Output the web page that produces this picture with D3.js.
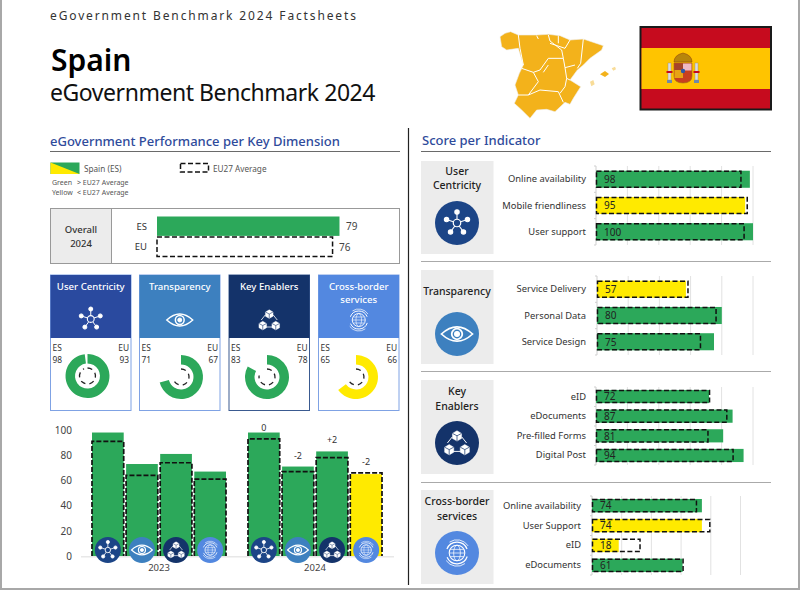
<!DOCTYPE html>
<html><head><meta charset="utf-8">
<script src="https://cdn.jsdelivr.net/npm/d3@7/dist/d3.min.js"></script>
<style>html,body{margin:0;padding:0;background:#fff}svg{display:block}text{font-family:"Noto Sans",sans-serif;fill:#333}</style>
</head><body><svg id="c" width="800" height="590"></svg>
<script>
// ---------- data ----------
const dimensions = ["User Centricity","Transparency","Key Enablers","Cross-border services"];
const dimKeys = ["network","eye","blocks","globe"];
const headerColors = ["#2a4a9f","#3d80bf","#14336a","#5388e0"];
const circleColors = ["#1c4587","#3d80bf","#14336a","#5388e0"];
const overallLabels = ["ES","EU"];
const overallValues = [79,76];
const esScores = [98,71,83,65];
const euScores = [93,67,78,66];
const years = ["2023","2024"];
const es2023 = [98,73,81,67];
const eu2023 = [91,64,74,61];
const es2024 = [98,71,83,65];
const eu2024 = [93,67,78,66];
const deltas2024 = ["0","-2","+2","-2"];
const yTicks = [0,20,40,60,80,100];
const sec1Labels = ["Online availability","Mobile friendliness","User support"];
const sec1ES = [98,95,100], sec1EU = [92,96,94];
const sec2Labels = ["Service Delivery","Personal Data","Service Design"];
const sec2ES = [57,80,75], sec2EU = [58,76,66];
const sec3Labels = ["eID","eDocuments","Pre-filled Forms","Digital Post"];
const sec3ES = [72,87,81,94], sec3EU = [72,83,71,87];
const sec4Labels = ["Online availability","User Support","eID","eDocuments"];
const sec4ES = [74,74,18,61], sec4EU = [70,79,32,61];
const GREEN="#2ca85a", YELLOW="#ffea00";
const F = '"Noto Sans",sans-serif';
// decorative map outline, in picture units of a small local grid
const mapOutline=[[30,65],[45,55],[62,50],[85,60],[140,60],[175,58],[210,62],[240,75],[280,72],[340,92],[335,105],[300,130],[280,150],[262,165],[240,195],[272,215],[250,250],[240,268],[225,262],[195,290],[170,283],[140,285],[120,310],[95,285],[73,265],[85,240],[75,210],[88,175],[100,150],[85,100],[50,105],[35,95]];
const mapBorders=[
 [[85,60],[90,100],[100,150]],
 [[140,62],[145,72]],[[175,60],[180,78],[215,105],[220,130],[175,130],[150,165],[130,172],[95,160]],
 [[180,85],[225,100],[240,75]],[[205,62],[205,85]],
 [[280,72],[272,145],[262,160]],
 [[220,130],[225,158],[255,150]],
 [[225,158],[230,190],[240,195]],[[230,190],[225,215],[210,235]],
 [[130,172],[145,200],[115,240],[85,240]],
 [[115,240],[150,225],[205,230],[220,262]],
 [[175,150],[160,172]]];
const mapIslands=[[[330,178],[345,168],[357,177],[345,186]],[[300,200],[310,195],[314,208],[304,214]],[[365,160],[375,155],[378,163],[370,167]]];

const svg=d3.select("#c");
function txt(g,x,y,s,o={}){const t=g.append("text").attr("x",x).attr("y",y).text(s)
 .attr("font-size",o.size||10).attr("text-anchor",o.anchor||"start").style("fill",o.fill||"#333").attr("font-weight",o.weight||400);
 if(o.ls)t.attr("letter-spacing",o.ls);return t;}

// frame
svg.append("path").attr("d","M1,0V589H799V0").attr("fill","none").attr("stroke","#a8a8a8").attr("stroke-width",2);

// header
txt(svg,50,20,"eGovernment Benchmark 2024 Factsheets",{size:12,ls:1.87,fill:"#333"});
txt(svg,51,71,"Spain",{size:30,weight:600,fill:"#000"});
txt(svg,50,101,"eGovernment Benchmark 2024",{size:23,fill:"#111",ls:-0.45});

// map
const mx=d3.scaleLinear().domain([0,300]).range([490,590]);
const my=d3.scaleLinear().domain([0,110]).range([15,51.67]);
const mapLine=d3.line().x(d=>mx(d[0])).y(d=>my(d[1]));
const mapG=svg.append("g");
mapG.append("path").attr("d",mapLine(mapOutline)+"Z").attr("fill","#f3b21b").attr("stroke","#eee").attr("stroke-width",.6);
mapBorders.forEach(b=>mapG.append("path").attr("d",mapLine(b)).attr("fill","none").attr("stroke","#fff").attr("stroke-width",1));
mapIslands.forEach((b,i)=>mapG.append("path").attr("d",mapLine(b)+"Z").attr("fill",i==0?"#f3b21b":"#f8dc98"));

// flag
const flag=svg.append("g");
flag.append("rect").attr("x",640.5).attr("y",27).attr("width",130.5).attr("height",82.5).attr("fill","#c60b1e").attr("stroke","#1a1a1a").attr("stroke-width",2);
flag.append("rect").attr("x",641.5).attr("y",48).attr("width",128.5).attr("height",41).attr("fill","#ffc400");
const cr=flag.append("g").attr("transform","translate(683,70)");
cr.append("path").attr("d","M-9,-7H9V6Q9,13 0,13Q-9,13 -9,6Z").attr("fill","#c8401f").attr("stroke","#9a6a10").attr("stroke-width",.6);
cr.append("rect").attr("x",0).attr("y",-6.5).attr("width",8.5).attr("height",7).attr("fill","#eeb9c4");
cr.append("rect").attr("x",-8.5).attr("y",0).attr("width",8.5).attr("height",8).attr("fill","#e8a315");
cr.append("rect").attr("x",-8.5).attr("y",-6.5).attr("width",8.5).attr("height",6.5).attr("fill","#a5452a");
cr.append("circle").attr("cx",0).attr("cy",1).attr("r",2.2).attr("fill","#2e5aa8");
cr.append("path").attr("d","M-9,-8Q-9,-15 0,-17Q9,-15 9,-8Z").attr("fill","#b8860b").attr("stroke","#8a3b10").attr("stroke-width",.5);
[-13.5,13.5].forEach(x=>{cr.append("rect").attr("x",x-1.5).attr("y",-7).attr("width",3).attr("height",17).attr("fill","#ddd").attr("stroke","#888").attr("stroke-width",.4);
 cr.append("rect").attr("x",x-2.5).attr("y",10).attr("width",5).attr("height",3).attr("fill","#6f8aa8");
 cr.append("rect").attr("x",x-3).attr("y",1).attr("width",6).attr("height",2).attr("fill","#c60b1e");});

// section headers
const HD="#2f4b9b";
txt(svg,50,146,"eGovernment Performance per Key Dimension",{size:13,weight:500,fill:HD});
txt(svg,422,145,"Score per Indicator",{size:13,weight:500,fill:HD});
[[50,400],[421,771]].forEach(([a,b])=>svg.append("line").attr("x1",a).attr("x2",b).attr("y1",151.5).attr("y2",151.5).attr("stroke","#6a6a6a").attr("stroke-width",1));
svg.append("line").attr("x1",408.5).attr("x2",408.5).attr("y1",128).attr("y2",585).attr("stroke","#222").attr("stroke-width",1.2);

// legend
svg.append("rect").attr("x",50.5).attr("y",162.5).attr("width",29).attr("height",11.5).attr("fill",GREEN);
svg.append("path").attr("d","M50.5,162.5L79.5,174H50.5Z").attr("fill",YELLOW);
txt(svg,84,172,"Spain (ES)",{size:8.2,fill:"#555"});
svg.append("rect").attr("x",180.5).attr("y",163.5).attr("width",28).attr("height",8.5).attr("fill","none").attr("stroke","#111").attr("stroke-width",1.5).attr("stroke-dasharray","5 2.5");
txt(svg,213,172,"EU27 Average",{size:8.2,fill:"#555"});
txt(svg,52,185,"Green",{size:7,fill:"#555"});
txt(svg,77,185,"> EU27 Average",{size:7,fill:"#555"});
txt(svg,52,195,"Yellow",{size:7,fill:"#555"});
txt(svg,77,195,"< EU27 Average",{size:7,fill:"#555"});

// overall box
const ov=svg.append("g");
ov.append("rect").attr("x",50.5).attr("y",208.5).attr("width",349).attr("height",55).attr("fill","#fff").attr("stroke","#999");
ov.append("rect").attr("x",51).attr("y",209).attr("width",60).attr("height",54).attr("fill","#ececec");
ov.append("line").attr("x1",111.5).attr("x2",111.5).attr("y1",208).attr("y2",264).attr("stroke","#999");
txt(ov,81,233,"Overall",{size:9.5,anchor:"middle",weight:500});
txt(ov,81,247,"2024",{size:9.5,anchor:"middle",weight:500});
const ovX=d3.scaleLinear().domain([0,100]).range([157,388]);
const ovY=d3.scaleBand().domain(overallLabels).range([216.5,256.5]).paddingInner(.06);
overallLabels.forEach((l,i)=>{
 const y=ovY(l),h=ovY.bandwidth(),v=overallValues[i];
 txt(ov,147,y+h/2+3.5,l,{size:9.5,anchor:"end"});
 const r=ov.append("rect").attr("x",ovX(0)).attr("y",y).attr("width",ovX(v)-ovX(0)).attr("height",h);
 if(i==0)r.attr("fill",GREEN); else r.attr("fill","#fff").attr("stroke","#111").attr("stroke-width",1.5).attr("stroke-dasharray","5 2.5");
 txt(ov,ovX(v)+6.5,y+h/2+4,v,{size:10,fill:"#444"});
});

// icons
function icon(g,key,cx,cy,s,color){
 const i=g.append("g").attr("transform",`translate(${cx},${cy}) scale(${s})`).attr("stroke","#fff").attr("fill","#fff");
 if(key==="network"){
  d3.range(5).forEach(k=>{const a=-Math.PI/2+k*2*Math.PI/5,x=Math.cos(a)*10,y=Math.sin(a)*10;
   i.append("line").attr("x1",0).attr("y1",0).attr("x2",x).attr("y2",y).attr("stroke-width",1);
   i.append("circle").attr("cx",x).attr("cy",y).attr("r",2);});
  i.append("circle").attr("r",3.4).attr("stroke-width",1.1).attr("fill",color);
 } else if(key==="eye"){
  i.append("path").attr("d","M-13,0Q0,-12 13,0Q0,12 -13,0Z").attr("fill","none").attr("stroke-width",1.4);
  i.append("circle").attr("r",4.4).attr("fill","none").attr("stroke-width",1.5);
  i.append("circle").attr("r",2);
 } else if(key==="blocks"){
  [[0,-6],[-6.5,5.5],[6.5,5.5]].forEach(([x,y])=>{
   i.append("path").attr("d",`M${x-3.8},${y-2}L${x},${y-4.2}L${x+3.8},${y-2}V${y+2.2}L${x},${y+4.4}L${x-3.8},${y+2.2}Z`).attr("stroke-width",.4);
   i.append("path").attr("d",`M${x-3.8},${y-2}L${x},${y}L${x+3.8},${y-2}M${x},${y}V${y+4.4}`).attr("fill","none").attr("stroke",color).attr("stroke-width",.6);});
  i.append("path").attr("d","M-4,-5L-8,0M4,-5L8,0M-3,7H3").attr("fill","none").attr("stroke-width",.8);
 } else {
  i.append("circle").attr("r",6.5).attr("fill","none").attr("stroke-width",.9);
  i.append("ellipse").attr("rx",2.8).attr("ry",6.5).attr("fill","none").attr("stroke-width",.6);
  i.append("path").attr("d","M-6.5,0H6.5M-5.6,-3H5.6M-5.6,3H5.6").attr("fill","none").attr("stroke-width",.6);
  const arc=(r,a,b,w)=>{const p=d3.path();p.arc(0,0,r,a-Math.PI/2,b-Math.PI/2);i.append("path").attr("d",p.toString()).attr("fill","none").attr("stroke-width",w);};
  arc(9,-1.2,1.2,1);arc(9,1.9,4.3,1);arc(11,-.6,1,.7);arc(11,2.5,4.1,.7);
 }
}

// cards
const cardX=[50.5,139.5,229,318.5], cardW=80.5;
const donutCX=[87.5,181,267,356], donutCY=[376,377,377,377];
const angle=d3.scaleLinear().domain([0,100]).range([0,2*Math.PI]);
dimensions.forEach((d,i)=>{
 const g=svg.append("g"),x=cardX[i],c=headerColors[i];
 g.append("rect").attr("x",x).attr("y",275).attr("width",cardW).attr("height",135.5).attr("fill","#fff").attr("stroke",i==2?"#3a5a90":"#7fa2e4").attr("stroke-width",1);
 g.append("rect").attr("x",x).attr("y",275).attr("width",cardW).attr("height",63).attr("fill",c);
 const lines=i==3?["Cross-border","services"]:[d];
 lines.forEach((t,k)=>txt(g,x+cardW/2,289.5+k*13,t,{size:9.6,anchor:"middle",fill:"#fff",weight:500}));
 icon(g,dimKeys[i],x+cardW/2,(i==0?319:320),1,c);
 txt(g,x+2,351,"ES",{size:8.4,fill:"#333"});
 txt(g,x+2,362.5,esScores[i],{size:8.4,fill:"#333"});
 txt(g,x+cardW-2,351,"EU",{size:8.4,anchor:"end"});
 txt(g,x+cardW-2,362.5,euScores[i],{size:8.4,anchor:"end"});
 const dg=g.append("g").attr("transform",`translate(${donutCX[i]},${donutCY[i]})`);
 const col=esScores[i]>=euScores[i]?GREEN:YELLOW;
 dg.append("path").attr("d",d3.arc()({innerRadius:12.5,outerRadius:22,startAngle:0,endAngle:angle(esScores[i])})).attr("fill",col);
 const p=d3.path();p.arc(0,0,8,-Math.PI/2,-Math.PI/2+angle(euScores[i]));
 dg.append("path").attr("d",p.toString()).attr("fill","none").attr("stroke","#222").attr("stroke-width",1.3).attr("stroke-dasharray","5 4");
});

// bottom column chart
const cy=d3.scaleLinear().domain([0,100]).range([556,430]);
const cx0=d3.scaleBand().domain(years).range([92,382]).paddingInner(.141);
const cx1=d3.scaleBand().domain(dimensions).range([0,cx0.bandwidth()]).paddingInner(.07);
const bc=svg.append("g");
bc.append("g").attr("transform","translate(72,0)").call(d3.axisLeft(cy).tickValues(yTicks).tickSize(0).tickPadding(0))
 .call(a=>a.select(".domain").remove()).selectAll("text").attr("font-size",10).attr("font-family",F).style("fill","#444");
bc.append("line").attr("x1",81).attr("x2",394).attr("y1",556.8).attr("y2",556.8).attr("stroke","#e8e8e8").attr("stroke-width",1.5);
bc.append("g").attr("transform","translate(0,561.5)").call(d3.axisBottom(cx0).tickSize(0).tickPadding(3))
 .call(a=>a.select(".domain").remove()).selectAll("text").attr("font-size",9.5).attr("font-family",F).style("fill","#444");
[[es2023,eu2023],[es2024,eu2024]].forEach(([es,eu],yi)=>{
 dimensions.forEach((d,i)=>{
  const x=cx0(years[yi])+cx1(d),w=cx1.bandwidth();
  bc.append("rect").attr("x",x).attr("y",cy(es[i])).attr("width",w).attr("height",cy(0)-cy(es[i])).attr("fill",es[i]>=eu[i]?GREEN:YELLOW);
  bc.append("path").attr("d",`M${x},${cy(0)}V${cy(eu[i])}H${x+w}V${cy(0)}`).attr("fill","none").attr("stroke","#111").attr("stroke-width",1.7).attr("stroke-dasharray","5 2");
  bc.append("circle").attr("cx",x+w/2).attr("cy",550).attr("r",13).attr("fill",circleColors[i]);
  icon(bc,dimKeys[i],x+w/2,550,.8,circleColors[i]);
  if(yi==1) txt(bc,x+w/2,cy(Math.max(es[i],eu[i]))-(i==0?1.5:8),deltas2024[i],{size:9,anchor:"middle",fill:"#333"});
 });
});

// indicator sections
const sections=[
 {title:["User","Centricity"],key:0,box:[161,254],labels:sec1Labels,es:sec1ES,eu:sec1EU,x:[596,753],y:[166,245],tx:586,ty:[174.5,189],ic:223},
 {title:["Transparency"],key:1,box:[270,364],labels:sec2Labels,es:sec2ES,eu:sec2EU,x:[597,753],y:[276,355],tx:586,ty:[295],ic:334},
 {title:["Key","Enablers"],key:2,box:[380,474],labels:sec3Labels,es:sec3ES,eu:sec3EU,x:[596,753],y:[387,465],tx:586,ty:[395,410],ic:443},
 {title:["Cross-border","services"],key:3,box:[490,584],labels:sec4Labels,es:sec4ES,eu:sec4EU,x:[592,740.5],y:[496,575],tx:581,ty:[505,520],ic:553}];
[261.5,371.5,482.5].forEach(y=>svg.append("line").attr("x1",421).attr("x2",771).attr("y1",y).attr("y2",y).attr("stroke","#aaa").attr("stroke-width",1));
sections.forEach(s=>{
 const g=svg.append("g");
 g.append("rect").attr("x",421).attr("y",s.box[0]).attr("width",72.5).attr("height",s.box[1]-s.box[0]).attr("fill","#ececec");
 s.title.forEach((t,k)=>txt(g,457,s.ty[k],t,{size:10.5,anchor:"middle",fill:"#222",weight:500}));
 g.append("circle").attr("cx",457).attr("cy",s.ic).attr("r",22).attr("fill",circleColors[s.key]);
 icon(g,dimKeys[s.key],457,s.ic,s.key==0?1.1:1.2,circleColors[s.key]);
 const x=d3.scaleLinear().domain([0,100]).range(s.x);
 const n=s.labels.length;
 const y=d3.scaleBand().domain(s.labels.map((l,i)=>i)).range(s.y).paddingInner(n==3?.35:.33).paddingOuter(n==3?.18:.15);
 // grid
 g.append("g").selectAll("line").data(d3.range(20,101,20)).join("line")
  .attr("x1",d=>x(d)).attr("x2",d=>x(d)).attr("y1",s.y[0]).attr("y2",s.y[1]).attr("stroke","#e2e2e2");
 // axis
 const ax=g.append("g").attr("transform",`translate(${s.x[0]},0)`);
 ax.append("line").attr("y1",s.y[0]).attr("y2",s.y[1]).attr("stroke","#cfcfcf");
 d3.range(n+1).forEach(k=>ax.append("line").attr("x1",-2).attr("x2",0).attr("y1",s.y[0]+(s.y[1]-s.y[0])*k/n).attr("y2",s.y[0]+(s.y[1]-s.y[0])*k/n).attr("stroke","#cfcfcf"));
 s.labels.forEach((l,i)=>{
  const by=y(i),h=y.bandwidth();
  txt(g,s.tx,by+h/2+3,l,{size:9.4,anchor:"end",fill:"#333"});
  g.append("rect").attr("x",x(0)).attr("y",by).attr("width",x(s.es[i])-x(0)).attr("height",h).attr("fill",s.es[i]>=s.eu[i]?GREEN:YELLOW);
  g.append("rect").attr("x",x(0)+.5).attr("y",by+.5).attr("width",x(s.eu[i])-x(0)).attr("height",h-1).attr("fill","none").attr("stroke","#111").attr("stroke-width",1.5).attr("stroke-dasharray","5 2.5");
  txt(g,x(0)+8,by+h/2+3.8,s.es[i],{size:10,fill:"#222"});
 });
});
</script></body></html>
